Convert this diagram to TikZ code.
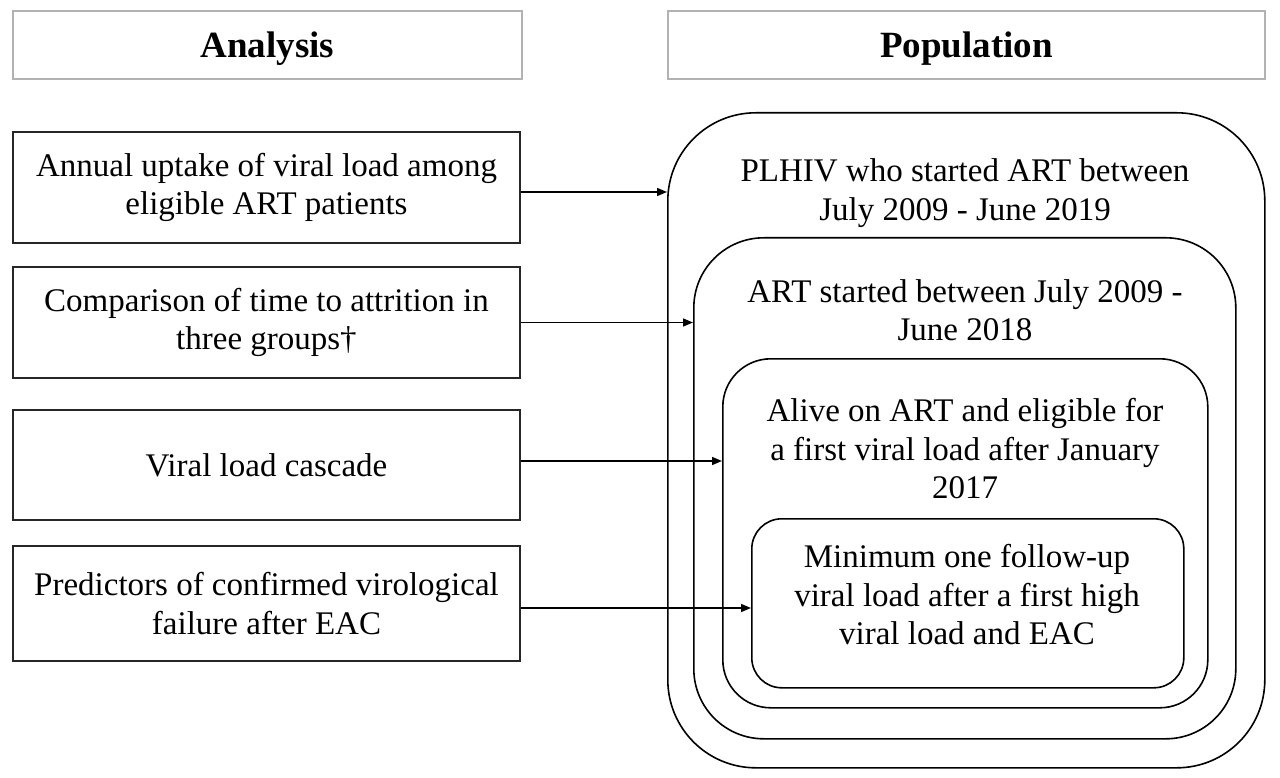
\documentclass[tikz,border=0pt]{standalone}
\usepackage{fontspec}
\setmainfont{Liberation Serif}
\usetikzlibrary{arrows.meta}
\begin{document}
\begin{tikzpicture}[x=1pt,y=-1pt,
  hdr/.style={draw=black!30, line width=1.8pt, anchor=north west, inner sep=0pt,
    font=\fontsize{37}{42}\selectfont\bfseries},
  abox/.style={draw=black!85, line width=2pt, anchor=north west, inner sep=0pt,
    minimum width=507pt, align=center, font=\fontsize{33}{38.5}\selectfont},
  pbox/.style={draw=black, line width=1.6pt, anchor=north west, inner sep=0pt},
  ptxt/.style={align=center, font=\fontsize{33}{38.5}\selectfont, inner sep=0pt},
  arr/.style={-{Triangle[length=10pt,width=8pt]}, line width=1.6pt, black}]
\useasboundingbox (0,0) rectangle (1280,778);
% headers
\node[hdr, minimum width=509pt, minimum height=68pt, text depth=-2pt] (ha) at (12,10) {Analysis};
\node[hdr, minimum width=597pt, minimum height=68pt, text depth=-2pt] (hp) at (667,10) {Population};
% analysis boxes
\node[abox, minimum height=111pt] (b1) at (12,131) {Annual uptake of viral load among\\eligible ART patients};
\node[abox, minimum height=111pt] (b2) at (12,266) {Comparison of time to attrition in\\three groups\dag};
\node[abox, minimum height=110pt] (b3) at (12,409) {Viral load cascade};
\node[abox, minimum height=115pt] (b4) at (12,545) {Predictors of confirmed virological\\failure after EAC};
% population nested boxes
\node[pbox, rounded corners=88pt, minimum width=597pt, minimum height=655pt] (r1) at (667,112) {};
\node[pbox, rounded corners=70pt, minimum width=542pt, minimum height=501pt] (r2) at (693,237) {};
\node[pbox, rounded corners=48pt, minimum width=485pt, minimum height=349pt] (r3) at (722,358) {};
\node[pbox, rounded corners=30pt, minimum width=432pt, minimum height=169pt] (r4) at (751,518) {};
% texts
\node[ptxt] (t1) at (965,193) {PLHIV who started ART between\\July 2009 - June 2019};
\node[ptxt] (t2) at (965,310) {ART started between July 2009 -\\June 2018};
\node[ptxt] (t3) at (965,449) {Alive on ART and eligible for\\a first viral load after January\\2017};
\node[ptxt] (t4) at (967,595) {Minimum one follow-up\\viral load after a first high\\viral load and EAC};
% arrows
\draw[arr] ([yshift=-4.5pt]b1.east) -- ([yshift=-4.5pt]b1.east -| r1.west);
\draw[arr] (b2.east) -- (b2.east -| r2.west);
\draw[arr] ([yshift=4pt]b3.east) -- ([yshift=4pt]b3.east -| r3.west);
\draw[arr] ([yshift=-4.5pt]b4.east) -- ([yshift=-4.5pt]b4.east -| r4.west);
\end{tikzpicture}
\end{document}
